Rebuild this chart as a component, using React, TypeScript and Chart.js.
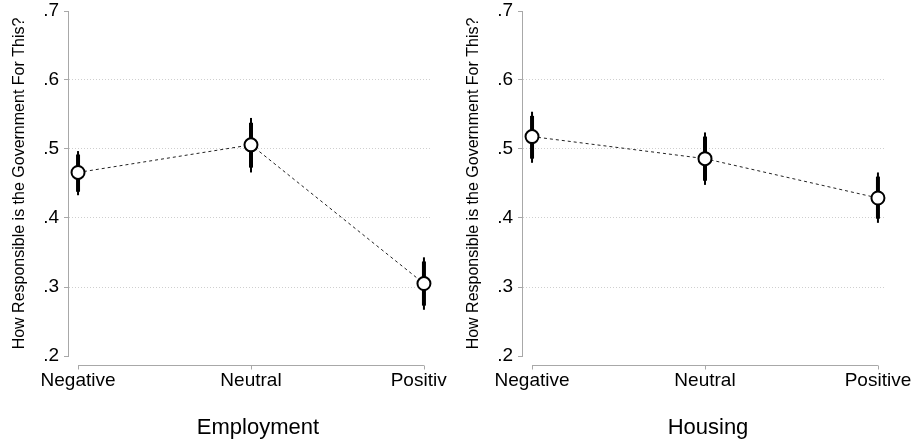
import React, { useEffect, useRef } from "react";
import { Chart, registerables } from "chart.js";

Chart.register(...registerables);

const categories = ["Negative", "Neutral", "Positive"];
const yTicks = [0.2, 0.3, 0.4, 0.5, 0.6, 0.7];

// Employment panel
const empMean = [0.466, 0.506, 0.305];
const empLo95 = [0.433, 0.466, 0.267];
const empHi95 = [0.497, 0.545, 0.343];
const empLo90 = [0.438, 0.473, 0.273];
const empHi90 = [0.492, 0.538, 0.337];

// Housing panel
const houMean = [0.518, 0.486, 0.429];
const houLo95 = [0.480, 0.448, 0.393];
const houHi95 = [0.554, 0.524, 0.466];
const houLo90 = [0.486, 0.454, 0.399];
const houHi90 = [0.548, 0.518, 0.460];

const FONT = "'Liberation Sans', Arial, Helvetica, sans-serif";
const AXIS_GRAY = "#a8a8a8";

type PanelProps = {
  title: string;
  mean: number[];
  lo95: number[];
  hi95: number[];
  lo90: number[];
  hi90: number[];
  width: number;
  left: number;
  titleDx: number;
};

function Panel({ title, mean, lo95, hi95, lo90, hi90, width, left, titleDx }: PanelProps) {
  const ref = useRef<HTMLCanvasElement | null>(null);

  useEffect(() => {
    if (!ref.current) return;
    const errorBars = {
      id: "errorBars",
      beforeDatasetsDraw(chart: any) {
        const ctx = chart.ctx;
        const xs = chart.scales.x;
        const ys = chart.scales.y;
        ctx.save();
        ctx.strokeStyle = "#000";
        ctx.lineCap = "butt";
        for (let i = 0; i < mean.length; i++) {
          const x = xs.getPixelForValue(i);
          ctx.lineWidth = 2;
          ctx.beginPath();
          ctx.moveTo(x, ys.getPixelForValue(lo95[i]));
          ctx.lineTo(x, ys.getPixelForValue(hi95[i]));
          ctx.stroke();
          ctx.lineWidth = 4;
          ctx.beginPath();
          ctx.moveTo(x, ys.getPixelForValue(lo90[i]));
          ctx.lineTo(x, ys.getPixelForValue(hi90[i]));
          ctx.stroke();
        }
        ctx.restore();
      },
      afterDraw(chart: any) {
        const ctx = chart.ctx;
        const xs = chart.scales.x;
        const area = chart.chartArea;
        const yLine = area.bottom + 9.5;
        ctx.save();
        ctx.strokeStyle = AXIS_GRAY;
        ctx.lineWidth = 1;
        ctx.beginPath();
        const x0 = xs.getPixelForValue(0);
        const x2 = xs.getPixelForValue(categories.length - 1);
        ctx.moveTo(x0, yLine);
        ctx.lineTo(x2, yLine);
        for (let i = 0; i < categories.length; i++) {
          const x = Math.round(xs.getPixelForValue(i)) + 0.5;
          ctx.moveTo(x, yLine);
          ctx.lineTo(x, yLine + 4);
        }
        ctx.stroke();
        // panel title (x-axis title)
        ctx.fillStyle = "#000";
        ctx.font = "22px " + FONT;
        ctx.textAlign = "center";
        ctx.textBaseline = "middle";
        ctx.fillText(title, (area.left + area.right) / 2 + titleDx, chart.height - 17.2);
        ctx.restore();
      },
    };

    const chart = new Chart(ref.current, {
      type: "line",
      data: {
        datasets: [
          {
            data: mean.map((v, i) => ({ x: i, y: v })),
            borderColor: "#222",
            borderWidth: 1,
            borderDash: [3, 3],
            pointRadius: 6.5,
            pointBorderWidth: 2,
            pointBackgroundColor: "#fff",
            pointBorderColor: "#000",
            fill: false,
            tension: 0,
            clip: false as any,
          },
        ],
      },
      options: {
        animation: false,
        responsive: false,
        devicePixelRatio: 1,
        events: [],
        layout: { padding: { top: 11, left: 0, right: width - 430, bottom: 0 } },
        plugins: { legend: { display: false }, tooltip: { enabled: false }, title: { display: false } },
        scales: {
          x: {
            type: "linear",
            min: -0.058,
            max: 2.035,
            grid: { display: false, drawTicks: false },
            border: { display: false },
            afterBuildTicks: (scale: any) => {
              scale.ticks = categories.map((_, i) => ({ value: i }));
            },
            afterFit: (scale: any) => {
              scale.height = 89;
              scale.paddingLeft = 0;
              scale.paddingRight = 0;
            },
            ticks: {
              autoSkip: false,
              maxRotation: 0,
              minRotation: 0,
              padding: 13,
              color: "#000",
              font: { family: FONT, size: 19 },
              callback: (v: any) => categories[Math.round(Number(v))] ?? "",
            },
            title: { display: false },
          },
          y: {
            type: "linear",
            min: 0.2,
            max: 0.7,
            afterBuildTicks: (scale: any) => {
              scale.ticks = yTicks.map((v) => ({ value: v }));
            },
            afterFit: (scale: any) => {
              scale.width = 68;
              scale.paddingTop = 0;
              scale.paddingBottom = 0;
            },
            grid: {
              color: (c: any) =>
                c.tick && c.tick.value > 0.25 && c.tick.value < 0.65 ? "#cfcfcf" : "rgba(0,0,0,0)",
              tickColor: AXIS_GRAY,
              tickLength: 4,
              lineWidth: 1,
            },
            border: { display: true, color: AXIS_GRAY, width: 1, dash: [1, 2] },
            ticks: {
              padding: 5,
              color: "#000",
              font: { family: FONT, size: 19 },
              callback: (v: any) => "." + Math.round(Number(v) * 10),
            },
            title: {
              display: true,
              text: "How Responsible is the Government For This?",
              color: "#000",
              font: { family: FONT, size: 16 },
              padding: { top: 10, bottom: 0 },
            },
          },
        },
      } as any,
      plugins: [errorBars],
    });
    return () => chart.destroy();
  }, []);

  return (
    <canvas
      ref={ref}
      width={width}
      height={445}
      style={{ position: "absolute", left, top: 0, width, height: 445 }}
    />
  );
}

export default function App() {
  return (
    <div
      style={{
        position: "absolute",
        left: 0,
        top: 0,
        width: 914,
        height: 445,
        background: "#fff",
        overflow: "hidden",
      }}
    >
      <Panel
        title="Employment"
        mean={empMean}
        lo95={empLo95}
        hi95={empHi95}
        lo90={empLo90}
        hi90={empHi90}
        width={447}
        left={0}
        titleDx={9}
      />
      <Panel
        title="Housing"
        mean={houMean}
        lo95={houLo95}
        hi95={houHi95}
        lo90={houLo90}
        hi90={houHi90}
        width={460}
        left={454}
        titleDx={5}
      />
    </div>
  );
}
